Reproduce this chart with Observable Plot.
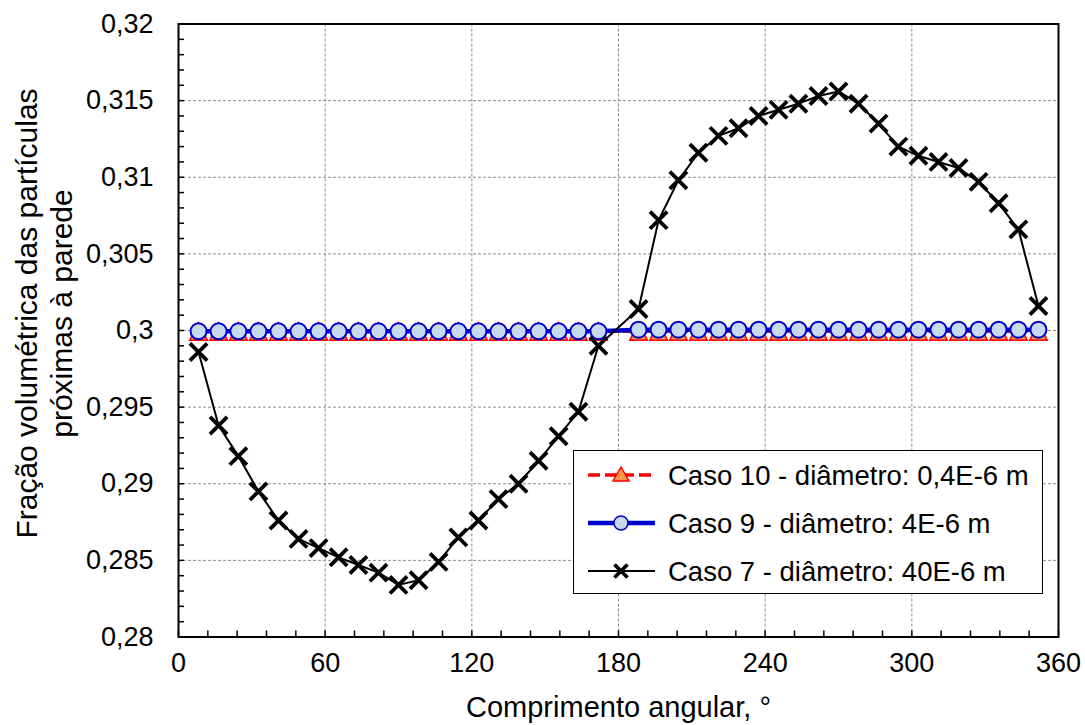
<!DOCTYPE html>
<html><head><meta charset="utf-8">
<script src="https://cdn.jsdelivr.net/npm/d3@7"></script>
<script src="https://cdn.jsdelivr.net/npm/@observablehq/plot@0.6"></script>
<style>
body{margin:0;background:#fff;}
#wrap{position:relative;width:1085px;height:725px;font-family:"Liberation Sans",Arial,sans-serif;}
.legend{position:absolute;left:573px;top:450px;width:470px;height:144px;box-sizing:border-box;border:1.5px solid #000;background:#fff;}
</style>
</head><body><div id="wrap"></div>
<script>
// Data
const angles = [8.2,16.4,24.5,32.7,40.9,49.1,57.3,65.5,73.6,81.8,90.0,98.2,106.4,114.5,122.7,130.9,139.1,147.3,155.5,163.6,171.8,
                188.2,196.4,204.5,212.7,220.9,229.1,237.3,245.5,253.6,261.8,270.0,278.2,286.4,294.5,302.7,310.9,319.1,327.3,335.5,343.6,351.8];
const caso10 = [0.29993,0.29993,0.29993,0.29993,0.29993,0.29993,0.29993,0.29993,0.29993,0.29993,0.29993,0.29993,0.29993,0.29993,0.29993,0.29993,0.29993,0.29993,0.29993,0.29993,0.29993,
                0.29993,0.29993,0.29993,0.29993,0.29993,0.29993,0.29993,0.29993,0.29993,0.29993,0.29993,0.29993,0.29993,0.29993,0.29993,0.29993,0.29993,0.29993,0.29993,0.29993,0.29993];
const caso9 = [0.29995,0.29995,0.29995,0.29995,0.29995,0.29995,0.29995,0.29995,0.29995,0.29995,0.29995,0.29995,0.29995,0.29995,0.29995,0.29995,0.29995,0.29995,0.29995,0.29995,0.29995,
               0.30005,0.30005,0.30005,0.30005,0.30005,0.30005,0.30005,0.30005,0.30005,0.30005,0.30005,0.30005,0.30005,0.30005,0.30005,0.30005,0.30005,0.30005,0.30005,0.30005,0.30005];
const caso7 = [0.2986,0.2938,0.2918,0.2895,0.2876,0.2864,0.2858,0.2852,0.2847,0.2842,0.2834,0.2837,0.2849,0.2865,0.2876,0.2890,0.2900,0.2915,0.2931,0.2947,0.2990,
               0.3014,0.3072,0.3098,0.3116,0.3127,0.3132,0.3140,0.3144,0.3148,0.3153,0.3156,0.3148,0.3135,0.3120,0.3114,0.3110,0.3106,0.3097,0.3083,0.3066,0.3016];
const seriesNames = ["Caso 10 - diâmetro: 0,4E-6 m","Caso 9 - diâmetro: 4E-6 m","Caso 7 - diâmetro: 40E-6 m"];
const xTicks = [0,60,120,180,240,300,360];
const yTicks = [0.28,0.285,0.29,0.295,0.3,0.305,0.31,0.315,0.32];
const xTitle = "Comprimento angular, °";
const yTitle = ["Fração volumétrica das partículas","próximas à parede"];

const toRows = (vals) => angles.map((a,i)=>({a, v: vals[i]}));
const d10 = toRows(caso10), d9 = toRows(caso9), d7 = toRows(caso7);
const xMinor = d3.range(0, 361, 12);
const yMinor = d3.range(0, 41).map(i => 0.28 + i*0.001);
const fmt = d => String(d).replace(".", ",");

const triSym = {draw(ctx, size){ const h = Math.sqrt(size/Math.PI); ctx.moveTo(0,-h); ctx.lineTo(h,h); ctx.lineTo(-h,h); ctx.closePath(); }};
const crossSym = {draw(ctx, size){ const r = Math.sqrt(size/Math.PI); ctx.moveTo(-r,-r); ctx.lineTo(r,r); ctx.moveTo(r,-r); ctx.lineTo(-r,r); }};

const W = 1085, H = 725, mL = 178, mR = 27, mT = 23.5, mB = 88.5;
const pw = W - mL - mR, ph = H - mT - mB;

const chart = Plot.plot({
  width: W, height: H,
  marginLeft: mL, marginRight: mR, marginTop: mT, marginBottom: mB,
  x: {domain: [0, 360], label: null},
  y: {domain: [0.28, 0.32], label: null},
  style: {fontFamily: '"Liberation Sans", Arial, sans-serif', background: "white", color: "black"},
  marks: [
    Plot.gridX(xTicks.slice(1, -1), {stroke: "#8c8c8c", strokeOpacity: 1, strokeDasharray: "3,2", strokeWidth: 1}),
    Plot.gridY(yTicks.slice(1, -1), {stroke: "#8c8c8c", strokeOpacity: 1, strokeDasharray: "3,2", strokeWidth: 1}),
    Plot.tickX(xMinor, {x: d => d, insetTop: ph - 6, stroke: "black", strokeWidth: 1.5}),
    Plot.tickY(yMinor, {y: d => d, insetRight: pw - 6, stroke: "black", strokeWidth: 1.5}),
    Plot.axisX(xTicks, {tickSize: 0, tickPadding: 16, fontSize: 27, label: null}),
    Plot.axisY(yTicks, {tickSize: 0, tickPadding: 25, fontSize: 27, tickFormat: fmt, label: null}),
    Plot.line(d10, {x: "a", y: "v", stroke: "#ff0000", strokeWidth: 3, strokeDasharray: "12,5"}),
    Plot.dot(d10, {x: "a", y: "v", symbol: triSym, r: 8.8, fill: "#f79646", stroke: "#ff0000", strokeWidth: 1.5}),
    Plot.line(d9, {x: "a", y: "v", stroke: "#0000cc", strokeWidth: 4.5}),
    Plot.dot(d9, {x: "a", y: "v", r: 8, fill: "#c6d9f1", stroke: "#0000cc", strokeWidth: 2}),
    Plot.line(d7, {x: "a", y: "v", stroke: "#000", strokeWidth: 2}),
    Plot.dot(d7, {x: "a", y: "v", symbol: crossSym, r: 8.6, fill: "none", stroke: "#000", strokeWidth: 3.8}),
    Plot.frame({stroke: "black", strokeWidth: 2}),
    Plot.text([xTitle], {text: d => d, frameAnchor: "bottom", lineAnchor: "top", dy: 59, fontSize: 29}),
    Plot.text([yTitle.join("\n")], {text: d => d, frameAnchor: "left", rotate: -90, dx: -135, dy: -17, fontSize: 30, lineHeight: 1.15, textAnchor: "middle", lineAnchor: "middle"})
  ]
});
const wrap = document.getElementById("wrap");
wrap.appendChild(chart);

// Legend
const leg = d3.select(wrap).append("div").attr("class", "legend");
const ls = leg.append("svg").attr("width", 467).attr("height", 141).style("display", "block");
const rows = [24, 72, 120];
const styles = [
  {stroke: "#ff0000", sw: 3.5, dash: "12,5"},
  {stroke: "#0000cc", sw: 4.5, dash: null},
  {stroke: "#000", sw: 2, dash: null}
];
seriesNames.forEach((name, i) => {
  const g = ls.append("g").attr("transform", `translate(0,${rows[i]})`);
  g.append("line").attr("x1", 14).attr("x2", 81).attr("y1", 0).attr("y2", 0)
    .attr("stroke", styles[i].stroke).attr("stroke-width", styles[i].sw)
    .attr("stroke-dasharray", styles[i].dash);
  if (i === 0) g.append("path").attr("d", "M47,-8L55,6L39,6Z").attr("fill", "#f79646").attr("stroke", "#ff0000").attr("stroke-width", 1.5);
  if (i === 1) g.append("circle").attr("cx", 47).attr("cy", 0).attr("r", 7).attr("fill", "#c6d9f1").attr("stroke", "#0000cc").attr("stroke-width", 1.5);
  if (i === 2) g.append("path").attr("d", "M40.5,-6.5L53.5,6.5M53.5,-6.5L40.5,6.5").attr("stroke", "#000").attr("stroke-width", 3.8);
  g.append("text").attr("x", 94).attr("y", 0).attr("dy", "0.35em").attr("font-size", 27.5)
    .attr("font-family", '"Liberation Sans", Arial, sans-serif').text(name);
});
</script>
</body></html>
